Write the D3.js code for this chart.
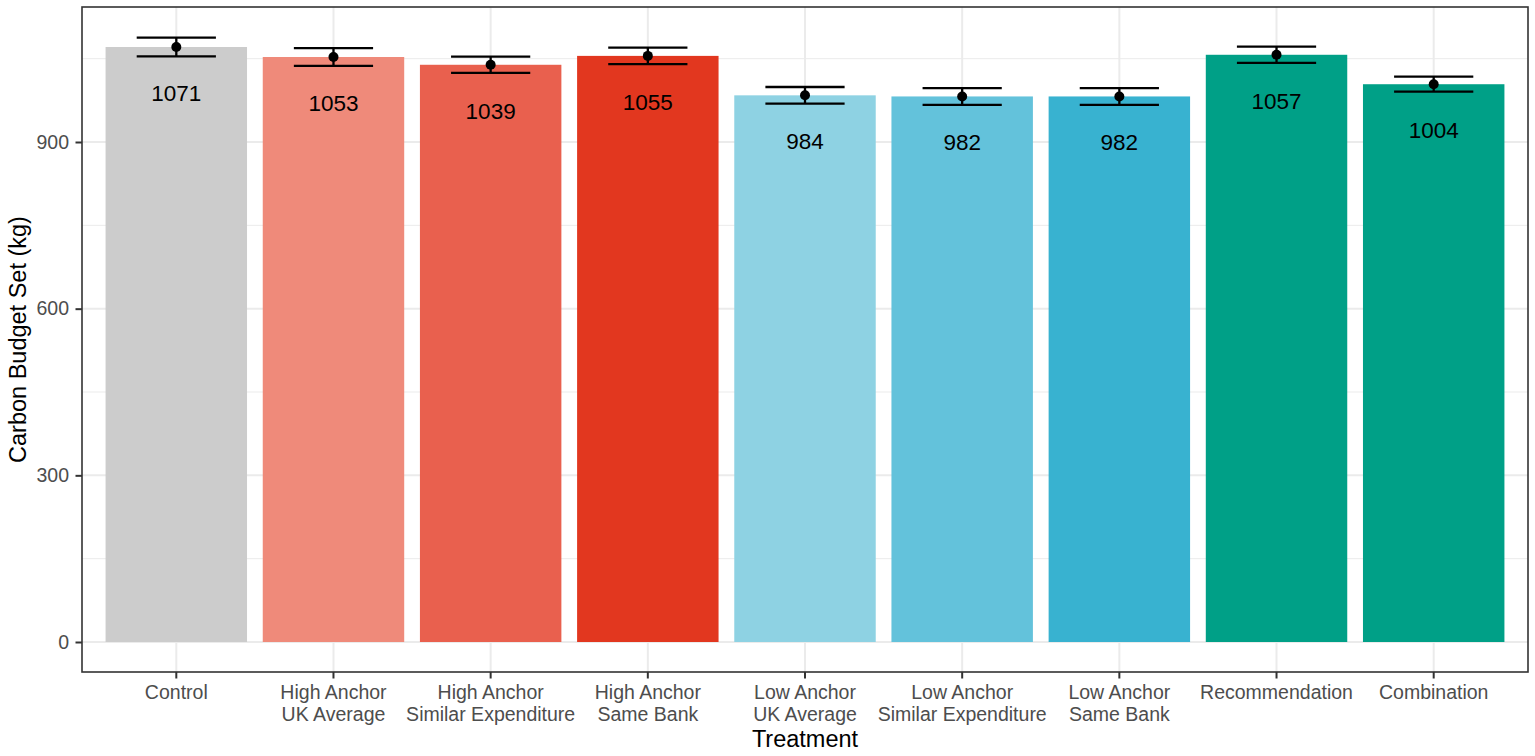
<!DOCTYPE html>
<html>
<head>
<meta charset="utf-8">
<script src="https://cdn.jsdelivr.net/npm/d3@7"></script>
<style>
  body { margin: 0; background: #fff; }
  text { font-family: "Liberation Sans", Arial, Helvetica, sans-serif; }
</style>
</head>
<body>
<div id="chart"></div>
<script>
// --------------- Data --------------- //

const treatments = [
    "Control",
    "High Anchor\nUK Average",
    "High Anchor\nSimilar Expenditure",
    "High Anchor\nSame Bank",
    "Low Anchor\nUK Average",
    "Low Anchor\nSimilar Expenditure",
    "Low Anchor\nSame Bank",
    "Recommendation",
    "Combination"
];
const means = [1071, 1053, 1039, 1055, 984, 982, 982, 1057, 1004];
const errors = [17, 16, 14.5, 15, 15, 15, 15, 14.5, 13.5];
const barColors = ["#cccccc", "#ef8a7a", "#e9604e", "#e2371f", "#8ed2e3", "#63c2db", "#38b2d0", "#00a087", "#00a087"];
const yTicks = [0, 300, 600, 900];
const yMinorTicks = [150, 450, 750, 1050];

// --------------- Basic Setup --------------- //

const width = 1535,
    height = 756;
const margin = {top: 7, right: 7, bottom: 84, left: 82};

const svg = d3.select("#chart")
    .append("svg")
    .attr("width", width)
    .attr("height", height);

const x = d3.scaleBand()
    .domain(treatments)
    .range([margin.left, width - margin.right])
    .paddingInner(0.1)
    .paddingOuter(0.15);

const y = d3.scaleLinear()
    .domain([-54, 1143])
    .range([height - margin.bottom, margin.top]);

const data = treatments.map((t, i) => ({t, mean: means[i], err: errors[i], color: barColors[i]}));

// --------------- Grid --------------- //

const grid = svg.append("g");
grid.selectAll(".minor")
    .data(yMinorTicks)
    .join("line")
    .attr("x1", margin.left).attr("x2", width - margin.right)
    .attr("y1", d => y(d)).attr("y2", d => y(d))
    .attr("stroke", "#ebebeb").attr("stroke-width", 1);
grid.selectAll(".major")
    .data(yTicks)
    .join("line")
    .attr("x1", margin.left).attr("x2", width - margin.right)
    .attr("y1", d => y(d)).attr("y2", d => y(d))
    .attr("stroke", "#ebebeb").attr("stroke-width", 2);
grid.selectAll(".vmajor")
    .data(treatments)
    .join("line")
    .attr("x1", d => x(d) + x.bandwidth() / 2).attr("x2", d => x(d) + x.bandwidth() / 2)
    .attr("y1", margin.top).attr("y2", height - margin.bottom)
    .attr("stroke", "#ebebeb").attr("stroke-width", 2);

// --------------- Bars --------------- //

svg.append("g")
    .selectAll("rect")
    .data(data)
    .join("rect")
    .attr("x", d => x(d.t))
    .attr("width", x.bandwidth())
    .attr("y", d => y(d.mean))
    .attr("height", d => y(0) - y(d.mean))
    .attr("fill", d => d.color);

// Error bars
const eb = svg.append("g")
    .attr("stroke", "#000")
    .attr("stroke-width", 2.3);
const cx = d => x(d.t) + x.bandwidth() / 2;
const half = x.bandwidth() * 0.28;
eb.selectAll(".v").data(data).join("line")
    .attr("x1", cx).attr("x2", cx)
    .attr("y1", d => y(d.mean + d.err)).attr("y2", d => y(d.mean - d.err));
eb.selectAll(".top").data(data).join("line")
    .attr("x1", d => cx(d) - half).attr("x2", d => cx(d) + half)
    .attr("y1", d => y(d.mean + d.err)).attr("y2", d => y(d.mean + d.err));
eb.selectAll(".bot").data(data).join("line")
    .attr("x1", d => cx(d) - half).attr("x2", d => cx(d) + half)
    .attr("y1", d => y(d.mean - d.err)).attr("y2", d => y(d.mean - d.err));

svg.append("g")
    .selectAll("circle")
    .data(data)
    .join("circle")
    .attr("cx", cx)
    .attr("cy", d => y(d.mean))
    .attr("r", 5)
    .attr("fill", "#000");

// Value labels
svg.append("g")
    .selectAll("text")
    .data(data)
    .join("text")
    .attr("x", cx)
    .attr("y", d => y(d.mean) + 54)
    .attr("text-anchor", "middle")
    .attr("font-size", 22.5)
    .attr("fill", "#000")
    .text(d => d.mean);

// --------------- Axes --------------- //

// panel border
svg.append("rect")
    .attr("x", margin.left).attr("y", margin.top)
    .attr("width", width - margin.left - margin.right)
    .attr("height", height - margin.top - margin.bottom)
    .attr("fill", "none")
    .attr("stroke", "#333333")
    .attr("stroke-width", 1.6);

const yAxis = svg.append("g")
    .attr("transform", `translate(${margin.left},0)`)
    .call(d3.axisLeft(y).tickValues(yTicks).tickSize(6.5).tickPadding(6.5));
yAxis.select(".domain").remove();
yAxis.selectAll(".tick line").attr("stroke", "#333333").attr("stroke-width", 2);
yAxis.selectAll(".tick text")
    .attr("font-size", 19.5)
    .attr("fill", "#4d4d4d")
    .attr("font-family", "Liberation Sans, Arial, sans-serif");

const xAxis = svg.append("g")
    .attr("transform", `translate(0,${height - margin.bottom})`)
    .call(d3.axisBottom(x).tickSize(6.5).tickFormat(""));
xAxis.select(".domain").remove();
xAxis.selectAll(".tick line").attr("stroke", "#333333").attr("stroke-width", 2);
xAxis.selectAll(".tick text").remove();
xAxis.selectAll(".tick")
    .append("text")
    .attr("text-anchor", "middle")
    .attr("font-size", 19.5)
    .attr("fill", "#4d4d4d")
    .attr("font-family", "Liberation Sans, Arial, sans-serif")
    .selectAll("tspan")
    .data(d => d.split("\n"))
    .join("tspan")
    .attr("x", 0)
    .attr("y", (d, i) => 27 + i * 21.5)
    .text(d => d);

// Axis titles
svg.append("text")
    .attr("x", (margin.left + width - margin.right) / 2)
    .attr("y", 747)
    .attr("text-anchor", "middle")
    .attr("font-size", 23.5)
    .attr("fill", "#000")
    .text("Treatment");

svg.append("text")
    .attr("transform", `translate(26,${(margin.top + height - margin.bottom) / 2}) rotate(-90)`)
    .attr("text-anchor", "middle")
    .attr("font-size", 23.5)
    .attr("fill", "#000")
    .text("Carbon Budget Set (kg)");
</script>
</body>
</html>
